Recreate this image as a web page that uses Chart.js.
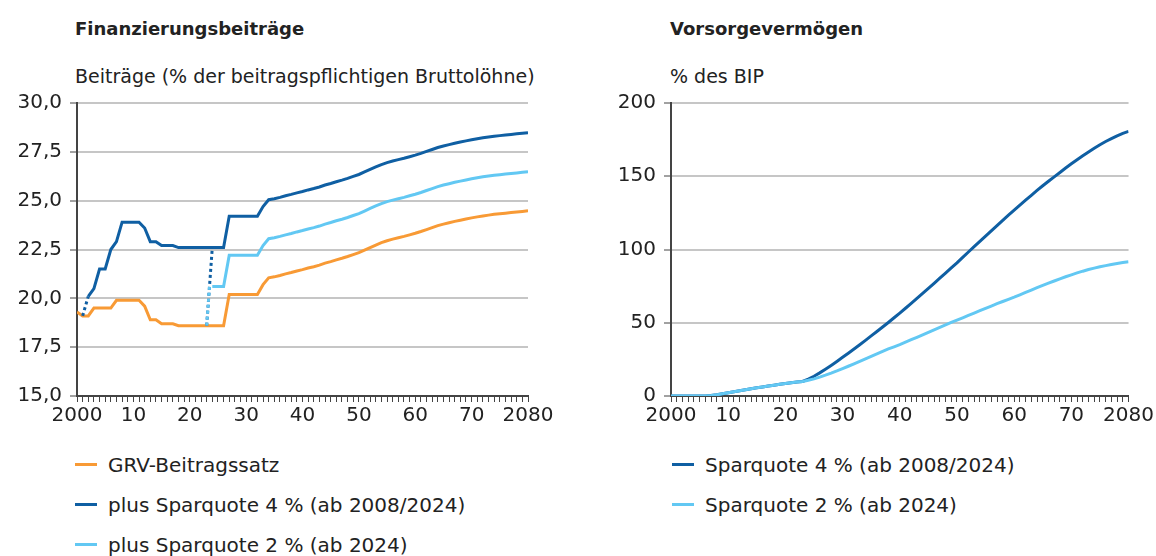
<!DOCTYPE html>
<html lang="de">
<head>
<meta charset="utf-8">
<title>Finanzierungsbeiträge und Vorsorgevermögen</title>
<script src="https://cdn.jsdelivr.net/npm/chart.js@4"></script>
<style>
  html, body { margin: 0; padding: 0; background: #fff; }
  body { width: 1156px; height: 556px; position: relative; overflow: hidden;
         font-family: "DejaVu Sans", sans-serif; color: #222; }
  .abs { position: absolute; white-space: nowrap; }
  .title { font-weight: bold; font-size: 18px; }
  .sub { font-size: 19px; }
  .leg { font-size: 20px; line-height: 22px; }
  .leg i { display: inline-block; width: 22px; height: 3px; vertical-align: middle;
           margin-right: 11px; position: relative; top: -2px; }
  canvas { position: absolute; }
</style>
</head>
<body>
<div class="abs title" style="left:75px; top:18px;">Finanzierungsbeiträge</div>
<div class="abs sub" style="left:75px; top:65px;">Beiträge (% der beitragspflichtigen Bruttolöhne)</div>
<div class="abs title" style="left:670px; top:18px;">Vorsorgevermögen</div>
<div class="abs sub" style="left:670px; top:65px;">% des BIP</div>

<canvas id="left" width="565" height="357" style="left:0; top:83px;"></canvas>
<canvas id="right" width="566" height="357" style="left:590px; top:83px;"></canvas>

<div class="abs leg" style="left:75px; top:454px;"><i style="background:#f89a35"></i>GRV-Beitragssatz</div>
<div class="abs leg" style="left:75px; top:494px;"><i style="background:#0f5fa3"></i>plus Sparquote 4 % (ab 2008/2024)</div>
<div class="abs leg" style="left:75px; top:534px;"><i style="background:#62c8f3"></i>plus Sparquote 2 % (ab 2024)</div>
<div class="abs leg" style="left:672px; top:454px;"><i style="background:#0f5fa3"></i>Sparquote 4 % (ab 2008/2024)</div>
<div class="abs leg" style="left:672px; top:494px;"><i style="background:#62c8f3"></i>Sparquote 2 % (ab 2024)</div>

<script>
// Finanzierungsbeiträge, % der beitragspflichtigen Bruttolöhne, jährlich ab 2000
const grvRate = [
  19.3, 19.1, 19.1, 19.5, 19.5, 19.5, 19.5, 19.9, 19.9, 19.9,
  19.9, 19.9, 19.6, 18.9, 18.9, 18.7, 18.7, 18.7, 18.6, 18.6,
  18.6, 18.6, 18.6, 18.6, 18.6, 18.6, 18.6, 20.2, 20.2, 20.2,
  20.2, 20.2, 20.2, 20.7, 21.05, 21.1, 21.17, 21.25, 21.32, 21.4,
  21.47, 21.55, 21.62, 21.7, 21.8, 21.88, 21.97, 22.05, 22.14, 22.24,
  22.34, 22.47, 22.6, 22.73, 22.85, 22.95, 23.03, 23.1, 23.17, 23.25,
  23.33, 23.42, 23.52, 23.62, 23.72, 23.8, 23.87, 23.94, 24.0, 24.06,
  24.12, 24.17, 24.22, 24.26, 24.3, 24.33, 24.36, 24.39, 24.42, 24.45,
  24.48
];
// plus Sparquote 4 %, ab 2002
const plus4Start = 2002;
const plus4 = [
  20.1, 20.5, 21.5, 21.5, 22.5, 22.9, 23.9, 23.9,
  23.9, 23.9, 23.6, 22.9, 22.9, 22.7, 22.7, 22.7, 22.6, 22.6,
  22.6, 22.6, 22.6, 22.6, 22.6, 22.6, 22.6, 24.2, 24.2, 24.2,
  24.2, 24.2, 24.2, 24.7, 25.05, 25.1, 25.17, 25.25, 25.32, 25.4,
  25.47, 25.55, 25.62, 25.7, 25.8, 25.88, 25.97, 26.05, 26.14, 26.24,
  26.34, 26.47, 26.6, 26.73, 26.85, 26.95, 27.03, 27.1, 27.17, 27.25,
  27.33, 27.42, 27.52, 27.62, 27.72, 27.8, 27.87, 27.94, 28.0, 28.06,
  28.12, 28.17, 28.22, 28.26, 28.3, 28.33, 28.36, 28.39, 28.42, 28.45,
  28.48
];
// plus Sparquote 2 %, ab 2024
const plus2Start = 2024;
const plus2 = [
  20.6, 20.6, 20.6, 22.2, 22.2, 22.2,
  22.2, 22.2, 22.2, 22.7, 23.05, 23.1, 23.17, 23.25, 23.32, 23.4,
  23.47, 23.55, 23.62, 23.7, 23.8, 23.88, 23.97, 24.05, 24.14, 24.24,
  24.34, 24.47, 24.6, 24.73, 24.85, 24.95, 25.03, 25.1, 25.17, 25.25,
  25.33, 25.42, 25.52, 25.62, 25.72, 25.8, 25.87, 25.94, 26.0, 26.06,
  26.12, 26.17, 26.22, 26.26, 26.3, 26.33, 26.36, 26.39, 26.42, 26.45,
  26.48
];
// gepunktete Übergänge
const link4EarlyX = [2001, 2002];
const link4EarlyY = [19.1, 20.1];
const link4LateX = [2023, 2024];
const link4LateY = [18.6, 22.6];
const link2X = [2023, 2023.5];
const link2Y = [18.6, 20.6];

// Vorsorgevermögen, % des BIP, jährlich ab 2000
const fund4 = [
  0, 0, 0, 0, 0, 0, 0, 0.3, 0.8, 1.5,
  2.2, 2.9, 3.6, 4.3, 5.0, 5.6, 6.2, 6.8, 7.4, 8.0,
  8.6, 9.1, 9.5, 9.9, 11.5, 13.5, 15.8, 18.3, 20.9, 23.6,
  26.4, 29.2, 32.1, 35.0, 38.0, 41.0, 44.0, 47.1, 50.2, 53.4,
  56.6, 59.9, 63.2, 66.6, 70.0, 73.4, 76.9, 80.4, 83.9, 87.4,
  90.9, 94.6, 98.3, 101.9, 105.5, 109.1, 112.7, 116.3, 119.9, 123.4,
  126.9, 130.3, 133.7, 137.0, 140.3, 143.5, 146.6, 149.6, 152.6, 155.6,
  158.5, 161.3, 164.0, 166.6, 169.1, 171.5, 173.7, 175.7, 177.6, 179.3,
  180.6
];
const fund2 = [
  0, 0, 0, 0, 0, 0, 0, 0.3, 0.8, 1.5,
  2.2, 2.9, 3.6, 4.3, 5.0, 5.6, 6.2, 6.8, 7.4, 8.0,
  8.6, 9.1, 9.5, 9.9, 10.7, 11.7, 12.9, 14.2, 15.6, 17.1,
  18.7, 20.3, 22.0, 23.7, 25.4, 27.1, 28.8, 30.5, 32.1, 33.6,
  35.1, 36.7, 38.4, 40.1, 41.8, 43.5, 45.2, 46.9, 48.6, 50.2,
  51.8, 53.4, 55.0, 56.6, 58.2, 59.8, 61.4, 63.0, 64.5, 66.0,
  67.5, 69.1, 70.7, 72.3, 73.9, 75.5, 77.0, 78.5, 80.0, 81.4,
  82.7, 84.0, 85.2, 86.3, 87.3, 88.2, 89.0, 89.8, 90.5, 91.1,
  91.7
];

const firstYear = 2000;
const lastYear = 2080;
const yLeftTicks = [15, 17.5, 20, 22.5, 25, 27.5, 30];
const yRightTicks = [0, 50, 100, 150, 200];

const ORANGE = '#f89a35';
const DARK = '#0f5fa3';
const LIGHT = '#62c8f3';

function toPoints(start, values) {
  return values.map((v, i) => ({ x: start + i, y: v }));
}
function pairPoints(xs, ys) {
  return xs.map((x, i) => ({ x: x, y: ys[i] }));
}

Chart.defaults.font.family = '"DejaVu Sans", sans-serif';
Chart.defaults.font.size = 20;
Chart.defaults.color = '#222';

function xAxis() {
  return {
    type: 'linear', min: firstYear, max: lastYear,
    afterFit: s => { s.height = 44; },
    afterBuildTicks: s => {
      const t = [];
      for (let y = firstYear; y <= lastYear; y++) t.push({ value: y });
      s.ticks = t;
    },
    ticks: {
      autoSkip: false, maxRotation: 0, padding: 2,
      callback: v => {
        if (v % 10 !== 0) return '';
        return (v === firstYear || v === lastYear) ? String(v) : String(v - firstYear);
      }
    },
    grid: { drawOnChartArea: false, drawTicks: true, tickLength: 6, tickColor: '#444', tickWidth: 1 },
    border: { color: '#444', width: 2 }
  };
}

function yAxis(width, tickValues, fmt) {
  return {
    type: 'linear', min: tickValues[0], max: tickValues[tickValues.length - 1],
    afterFit: s => { s.width = width; },
    afterBuildTicks: s => { s.ticks = tickValues.map(v => ({ value: v })); },
    ticks: { padding: 8, callback: fmt },
    grid: { color: '#c6c6c6', lineWidth: 2, drawTicks: true, tickLength: 7, tickColor: '#444', tickWidth: 1 },
    border: { color: '#444', width: 2 }
  };
}

const common = {
  responsive: false,
  devicePixelRatio: 1,
  animation: false,
  plugins: { legend: { display: false }, tooltip: { enabled: false } },
  elements: { point: { radius: 0 }, line: { tension: 0, borderWidth: 3 } }
};

new Chart(document.getElementById('left'), {
  type: 'line',
  data: {
    datasets: [
      { data: pairPoints(link2X, link2Y), borderColor: LIGHT, borderDash: [3, 3], borderCapStyle: 'butt' },
      { data: pairPoints(link4LateX, link4LateY), borderColor: DARK, borderDash: [3, 3], borderCapStyle: 'butt' },
      { data: pairPoints(link4EarlyX, link4EarlyY), borderColor: DARK, borderDash: [3, 3], borderCapStyle: 'butt' },
      { label: 'GRV-Beitragssatz', data: toPoints(firstYear, grvRate), borderColor: ORANGE },
      { label: 'plus Sparquote 4 % (ab 2008/2024)', data: toPoints(plus4Start, plus4), borderColor: DARK },
      { label: 'plus Sparquote 2 % (ab 2024)', data: toPoints(plus2Start, plus2), borderColor: LIGHT }
    ]
  },
  options: Object.assign({}, common, {
    layout: { padding: { left: 0, right: 37, top: 7, bottom: 0 } },
    scales: {
      x: xAxis(),
      y: yAxis(77, yLeftTicks, v => v.toFixed(1).replace('.', ','))
    }
  })
});

new Chart(document.getElementById('right'), {
  type: 'line',
  data: {
    datasets: [
      { label: 'Sparquote 2 % (ab 2024)', data: toPoints(firstYear, fund2), borderColor: LIGHT },
      { label: 'Sparquote 4 % (ab 2008/2024)', data: toPoints(firstYear, fund4), borderColor: DARK }
    ]
  },
  options: Object.assign({}, common, {
    layout: { padding: { left: 0, right: 26, top: 7, bottom: 0 } },
    scales: {
      x: xAxis(),
      y: yAxis(81, yRightTicks, v => String(v))
    }
  })
});
</script>
</body>
</html>
